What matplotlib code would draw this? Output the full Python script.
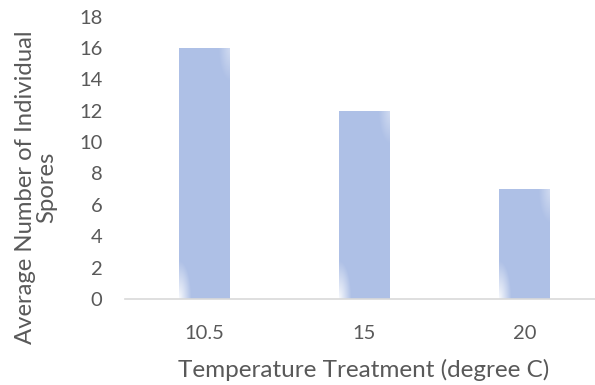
import numpy as np
import matplotlib.pyplot as plt

categories = ['10.5', '15', '20']
spores = [16, 12, 7]
y_ticks = [0, 2, 4, 6, 8, 10, 12, 14, 16, 18]

plt.rcParams['font.family'] = ['Lato', 'DejaVu Sans']
grey = '#595959'

fig = plt.figure(figsize=(5.95, 3.85), dpi=100)
W, H = 595, 385
ax_h = 299 - 16.6
ax = fig.add_axes([124.5 / W, 86 / H, 480 / W, ax_h / H])

x = range(len(categories))
bw = 0.32
ax.bar(x, spores, width=bw, color='#aec0e6', zorder=2)

# soft light corners on the bars (bottom-left and top-right glow)
px_per_unit = ax_h / 18
for xi, v in zip(x, spores):
    hpx = int(v * px_per_unit)
    u, w = np.meshgrid(np.linspace(0, 51, 51), np.linspace(0, hpx, hpx))
    a1 = np.clip(1 - np.sqrt((u / 12) ** 2 + (w / 38) ** 2), 0, 1) * 0.9
    a2 = np.clip(1 - np.sqrt(((51 - u) / 12) ** 2 + ((hpx - w) / 34) ** 2), 0, 1) * 0.45
    rgba = np.ones((hpx, 51, 4))
    rgba[..., 3] = np.maximum(a1, a2)
    ax.imshow(rgba, origin='lower', aspect='auto', zorder=3,
              extent=[xi - bw / 2, xi + bw / 2, 0, v], interpolation='bilinear')

ax.set_xlim(-0.5, 2.5)
ax.set_ylim(0, 18)
ax.set_yticks(y_ticks)
ax.set_xticks(list(x))
ax.set_xticklabels(categories)

for s in ['top', 'right', 'left']:
    ax.spines[s].set_visible(False)
ax.spines['bottom'].set_color('#d9d9d9')
ax.spines['bottom'].set_linewidth(1.2)
ax.spines['bottom'].set_clip_on(False)
ax.spines['bottom'].set_zorder(4)

ax.tick_params(axis='both', length=0, colors=grey, labelsize=14.5)
ax.tick_params(axis='y', pad=16)
ax.tick_params(axis='x', pad=19)

fig.text(36 / W, 1 - 187 / H, 'Average Number of Individual\nSpores', rotation=90,
         ha='center', va='center', color=grey, fontsize=17.2, linespacing=1.0)
fig.text(364 / W, 1 - 370 / H, 'Temperature Treatment (degree C)',
         ha='center', va='center', color=grey, fontsize=17.5)

fig.savefig('out.png', dpi=100)
